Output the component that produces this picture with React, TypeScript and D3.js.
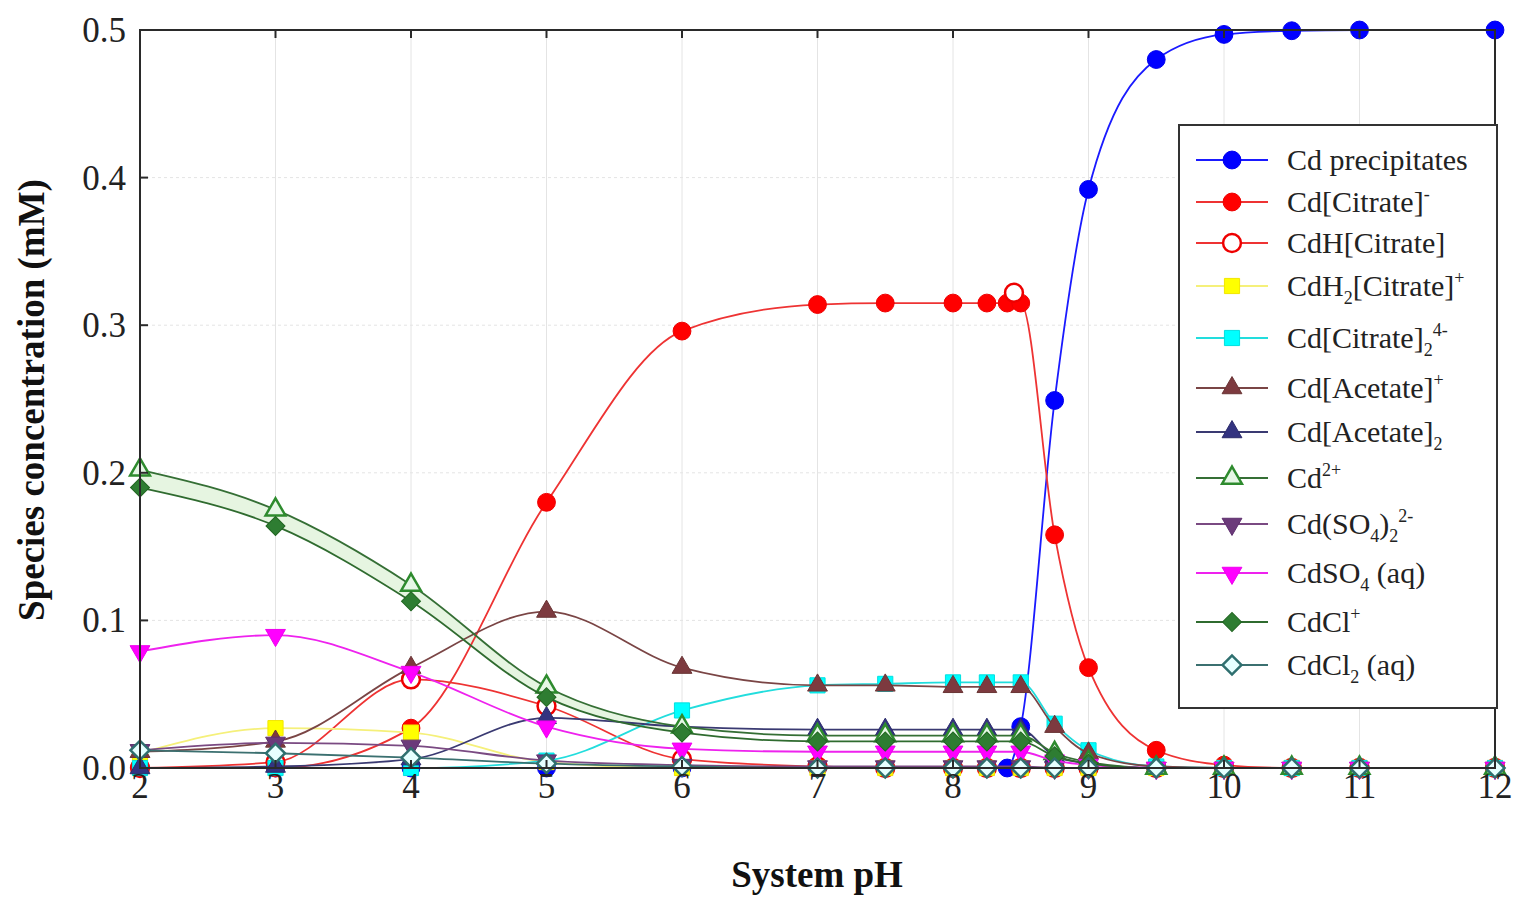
import React from 'react';
import * as d3 from 'd3';

// pH sampling points of the speciation model
const PH = [2, 3, 4, 5, 6, 7, 7.5, 8, 8.25, 8.4, 8.5, 8.75, 9, 9.5, 10, 10.5, 11, 12];

// species concentrations (mM), null = no point at that pH
const cdPrecipitates = [0, 0, 0, 0, 0, 0, 0, 0, 0, 0, 0.028, 0.249, 0.392, 0.48, 0.497, 0.4995, 0.5, 0.5];
const cdCitrate = [0, 0, 0.027, 0.18, 0.296, 0.314, 0.315, 0.315, 0.315, 0.315, 0.315, 0.158, 0.068, 0.012, 0.002, 0, 0, 0];
const cdHCitrate = [0, 0.004, 0.06, 0.042, 0.006, 0.001, 0, 0, 0, null, 0, 0, 0, 0, 0, 0, 0, 0];
const cdH2Citrate = [0.01, 0.027, 0.024, 0.004, 0, 0, 0, 0, 0, null, 0, 0, 0, 0, 0, 0, 0, 0];
const cdCitrate2 = [0, 0, 0, 0.005, 0.039, 0.056, 0.057, 0.058, 0.058, null, 0.058, 0.03, 0.012, 0.001, 0, 0, 0, 0];
const cdAcetate = [0.011, 0.018, 0.068, 0.106, 0.068, 0.056, 0.056, 0.055, 0.055, null, 0.055, 0.028, 0.01, 0.001, 0, 0, 0, 0];
const cdAcetate2 = [0, 0.001, 0.006, 0.034, 0.028, 0.026, 0.026, 0.026, 0.026, null, 0.026, 0.008, 0.003, 0, 0, 0, 0, 0];
const cd2plus = [0.202, 0.175, 0.124, 0.055, 0.028, 0.022, 0.022, 0.022, 0.022, null, 0.022, 0.01, 0.004, 0, 0, 0, 0, 0];
const cdSO4_2 = [0.012, 0.017, 0.015, 0.005, 0.002, 0.001, 0.001, 0.001, 0.001, null, 0.001, 0, 0, 0, 0, 0, 0, 0];
const cdSO4 = [0.079, 0.09, 0.065, 0.028, 0.013, 0.011, 0.011, 0.011, 0.011, null, 0.011, 0.005, 0.002, 0, 0, 0, 0, 0];
const cdCl = [0.19, 0.164, 0.113, 0.048, 0.024, 0.018, 0.018, 0.018, 0.018, null, 0.018, 0.008, 0.003, 0, 0, 0, 0, 0];
const cdCl2 = [0.012, 0.01, 0.007, 0.003, 0.001, 0, 0, 0, 0, null, 0, 0, 0, 0, 0, 0, 0, 0];

// lone CdH[Citrate] point sitting on the plateau
const strayPH = [8.45];
const strayCdHCitrate = [0.322];

const X_TICKS = [2, 3, 4, 5, 6, 7, 8, 9, 10, 11, 12];
const Y_TICKS = [0, 0.1, 0.2, 0.3, 0.4, 0.5];

type Seg = [string, 'n' | 'sub' | 'sup'];

const series = [
  { values: cdPrecipitates, line: '#1a1aff', stroke: '#0000ee', fill: '#0000ff', shape: 'circle',
    label: [['Cd precipitates', 'n']] as Seg[] },
  { values: cdCitrate, line: '#ee3333', stroke: '#ee0000', fill: '#ff0000', shape: 'circle',
    label: [['Cd[Citrate]', 'n'], ['-', 'sup']] as Seg[] },
  { values: cdHCitrate, line: '#ee3333', stroke: '#ee0000', fill: '#ffffff', shape: 'circle',
    label: [['CdH[Citrate]', 'n']] as Seg[] },
  { values: cdH2Citrate, line: '#f5f07a', stroke: '#f2e600', fill: '#ffff00', shape: 'square',
    label: [['CdH', 'n'], ['2', 'sub'], ['[Citrate]', 'n'], ['+', 'sup']] as Seg[] },
  { values: cdCitrate2, line: '#22dddd', stroke: '#00e0e0', fill: '#00ffff', shape: 'square',
    label: [['Cd[Citrate]', 'n'], ['2', 'sub'], ['4-', 'sup']] as Seg[] },
  { values: cdAcetate, line: '#7a4545', stroke: '#6a3535', fill: '#7d3a3f', shape: 'triangle',
    label: [['Cd[Acetate]', 'n'], ['+', 'sup']] as Seg[] },
  { values: cdAcetate2, line: '#3a3a72', stroke: '#2b2b6b', fill: '#333380', shape: 'triangle',
    label: [['Cd[Acetate]', 'n'], ['2', 'sub']] as Seg[] },
  { values: cd2plus, line: '#356f35', stroke: '#2e8b2e', fill: '#e6f7e6', shape: 'triangle',
    label: [['Cd', 'n'], ['2+', 'sup']] as Seg[] },
  { values: cdSO4_2, line: '#7a4a82', stroke: '#5e2f6e', fill: '#6b3a7a', shape: 'triangleDown',
    label: [['Cd(SO', 'n'], ['4', 'sub'], [')', 'n'], ['2', 'sub'], ['2-', 'sup']] as Seg[] },
  { values: cdSO4, line: '#ee22ee', stroke: '#ee00ee', fill: '#ff00ff', shape: 'triangleDown',
    label: [['CdSO', 'n'], ['4', 'sub'], [' (aq)', 'n']] as Seg[] },
  { values: cdCl, line: '#2f6b2f', stroke: '#226622', fill: '#2e7d32', shape: 'diamond',
    label: [['CdCl', 'n'], ['+', 'sup']] as Seg[] },
  { values: cdCl2, line: '#3b7070', stroke: '#2f6f6f', fill: '#e6ffff', shape: 'diamond',
    label: [['CdCl', 'n'], ['2', 'sub'], [' (aq)', 'n']] as Seg[] },
];

const LEGEND_Y = [160, 202, 243, 286, 338, 388, 432, 478, 524, 573, 622, 665];

const W = 1520, H = 897;
const left = 140, right = 1495, top = 30, bottom = 768;

const x = d3.scaleLinear().domain([2, 12]).range([left, right]);
const y = d3.scaleLinear().domain([0, 0.5]).range([bottom, top]);

const symbolPath = (shape: string) => {
  if (shape === 'circle') return d3.symbol(d3.symbolCircle, 250)()!;
  if (shape === 'square') return d3.symbol(d3.symbolSquare, 230)()!;
  if (shape === 'diamond') return d3.symbol(d3.symbolSquare, 180)()!;
  return d3.symbol(d3.symbolTriangle, 170)()!;
};
const symbolRotate = (shape: string) =>
  shape === 'diamond' ? 45 : shape === 'triangleDown' ? 180 : 0;

const Marker = ({ cx, cy, s }: { cx: number; cy: number; s: any }) => (
  <path
    d={symbolPath(s.shape)}
    transform={`translate(${cx},${cy}) rotate(${symbolRotate(s.shape)})`}
    fill={s.fill}
    stroke={s.stroke}
    strokeWidth={s.fill === '#ffffff' || s.fill.startsWith('#e6') ? 2.5 : 1}
  />
);

const Label = ({ segs, lx, ly }: { segs: Seg[]; lx: number; ly: number }) => {
  let cur = 0;
  return (
    <text x={lx} y={ly} fontSize={30} fill="#222" fontFamily="'Liberation Serif', 'Times New Roman', serif">
      {segs.map(([t, k], i) => {
        const target = k === 'sub' ? 8 : k === 'sup' ? -12 : 0;
        const dy = target - cur;
        cur = target;
        return (
          <tspan key={i} dy={dy} fontSize={k === 'n' ? 30 : 18}>{t}</tspan>
        );
      })}
    </text>
  );
};

const App = () => {
  const lineGen = d3
    .line<[number, number]>()
    .x(d => x(d[0]))
    .y(d => y(d[1]))
    .curve(d3.curveMonotoneX);

  const pts = (vals: (number | null)[]) =>
    PH.map((p, i) => [p, vals[i]] as [number, number | null]).filter(d => d[1] !== null) as [number, number][];

  // pale band between Cd2+ and CdCl+
  const band = d3
    .area<[number, number, number]>()
    .x(d => x(d[0]))
    .y0(d => y(d[1]))
    .y1(d => y(d[2]))
    .curve(d3.curveMonotoneX)(
      PH.map((p, i) => [p, cdCl[i], cd2plus[i]] as [number, any, any]).filter(d => d[1] !== null && d[0] <= 6)
    );

  const font = "'Liberation Serif', 'Times New Roman', serif";

  return (
    <svg width={W} height={H} style={{ position: 'absolute', left: 0, top: 0, background: '#fff' }}>
      {/* grid */}
      <g stroke="#e4e4e4" strokeWidth={1}>
        {X_TICKS.map(t => <line key={'gx' + t} x1={x(t)} x2={x(t)} y1={top} y2={bottom} />)}
        {Y_TICKS.map(t => <line key={'gy' + t} x1={left} x2={right} y1={y(t)} y2={y(t)} strokeDasharray="3,3" />)}
      </g>

      <path d={band!} fill="#e6f5e1" stroke="none" />

      {series.map((s, si) => (
        <g key={si}>
          <path d={lineGen(pts(s.values))!} fill="none" stroke={s.line} strokeWidth={1.8} />
          {pts(s.values).map((d, i) => (
            <Marker key={i} cx={x(d[0])} cy={y(d[1])} s={s} />
          ))}
          {si === 2 && strayPH.map((p, i) => (
            <Marker key={'st' + i} cx={x(p)} cy={y(strayCdHCitrate[i])} s={s} />
          ))}
        </g>
      ))}

      {/* frame */}
      <rect x={left} y={top} width={right - left} height={bottom - top} fill="none" stroke="#2a2a2a" strokeWidth={2} />
      <g stroke="#2a2a2a" strokeWidth={2}>
        {X_TICKS.map(t => (
          <g key={'tx' + t}>
            <line x1={x(t)} x2={x(t)} y1={bottom} y2={bottom - 8} />
            <line x1={x(t)} x2={x(t)} y1={top} y2={top + 8} />
          </g>
        ))}
        {Y_TICKS.map(t => (
          <g key={'ty' + t}>
            <line x1={left} x2={left + 8} y1={y(t)} y2={y(t)} />
            <line x1={right} x2={right - 8} y1={y(t)} y2={y(t)} />
          </g>
        ))}
      </g>

      {/* tick labels */}
      <g fontFamily={font} fontSize={35} fill="#222">
        {X_TICKS.map(t => (
          <text key={'lx' + t} x={x(t)} y={bottom + 30} textAnchor="middle">{t}</text>
        ))}
        {Y_TICKS.map(t => (
          <text key={'ly' + t} x={left - 14} y={y(t) + 12} textAnchor="end">{d3.format('.1f')(t)}</text>
        ))}
      </g>

      {/* axis titles */}
      <text x={817} y={887} textAnchor="middle" fontFamily={font} fontWeight="bold" fontSize={37} fill="#111">System pH</text>
      <text
        transform="translate(44,400) rotate(-90)"
        textAnchor="middle"
        fontFamily={font}
        fontWeight="bold"
        fontSize={37}
        fill="#111"
      >Species concentration (mM)</text>

      {/* legend */}
      <rect x={1179} y={125} width={318} height={583} fill="#fff" stroke="#333" strokeWidth={2} />
      {series.map((s, i) => (
        <g key={'lg' + i}>
          <line x1={1196} x2={1268} y1={LEGEND_Y[i]} y2={LEGEND_Y[i]} stroke={s.line} strokeWidth={2} />
          <Marker cx={1232} cy={LEGEND_Y[i]} s={s} />
          <Label segs={s.label} lx={1287} ly={LEGEND_Y[i] + 10} />
        </g>
      ))}
    </svg>
  );
};

export default App;
